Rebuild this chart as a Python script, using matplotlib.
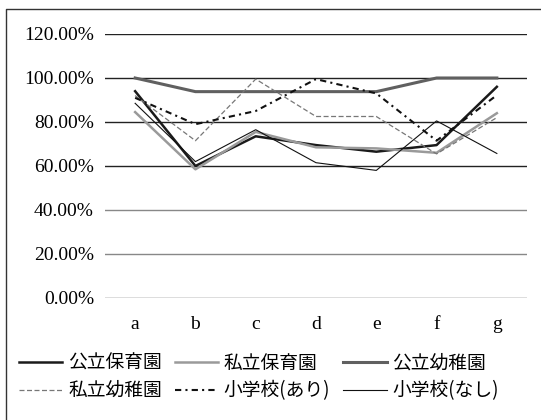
import matplotlib
matplotlib.use("Agg")
import matplotlib.pyplot as plt
from matplotlib.lines import Line2D

plt.rcParams['font.family'] = ['Noto Sans CJK JP', 'DejaVu Sans']

categories = ['a', 'b', 'c', 'd', 'e', 'f', 'g']
yticks = [0, 20, 40, 60, 80, 100, 120]

public_nursery = [94, 60, 73.5, 69.5, 66.5, 69.5, 96]
private_nursery = [84.5, 58.5, 75.5, 68.5, 68, 66, 84]
public_kinder = [100, 93.8, 93.8, 93.8, 93.8, 100, 100]
private_kinder = [92, 71.5, 99.5, 82.5, 82.5, 65.5, 82]
school_yes = [91, 79, 85, 99.5, 93, 71.5, 92.2]
school_no = [88.5, 62, 76.5, 61.5, 58, 80.5, 65.7]

fig = plt.figure(figsize=(5.41, 4.20), dpi=100)
ax = fig.add_axes([105 / 541, 1 - 298 / 420, 422 / 541, 264 / 420])

# frame around the chart (left and top edges)
fx = [6 / 541, 6 / 541, 1.0]
fy = [0, 1 - 9 / 420, 1 - 9 / 420]
fig.add_artist(Line2D(fx, fy, transform=fig.transFigure, color='#333333', linewidth=1.0))

# horizontal gridlines
grid_colors = ['#555555', '#888888', '#888888', '#222222', '#222222', '#222222', '#222222']
for v, c in zip(yticks, grid_colors):
    ax.axhline(v, color=c, linewidth=1.0, zorder=0)

x = range(len(categories))
l1, = ax.plot(x, public_nursery, color='#1a1a1a', linewidth=1.8, label='公立保育園')
l2, = ax.plot(x, private_nursery, color='#9a9a9a', linewidth=1.8, label='私立保育園')
l3, = ax.plot(x, public_kinder, color='#606060', linewidth=2.2, label='公立幼稚園')
l4, = ax.plot(x, private_kinder, color='#777777', linewidth=0.9, linestyle=(0, (4, 2)), label='私立幼稚園')
l5, = ax.plot(x, school_yes, color='#111111', linewidth=1.5, linestyle=(0, (3, 2, 1, 2)), label='小学校(あり)')
l6, = ax.plot(x, school_no, color='#111111', linewidth=0.8, label='小学校(なし)')

ax.set_xlim(-0.5, 6.5)
ax.set_ylim(0, 120)
ax.set_xticks(list(x))
ax.set_xticklabels(categories, family='Liberation Serif', fontsize=14)
ax.set_yticks(yticks)
ax.set_yticklabels(['%.2f%%' % v for v in yticks], family='Liberation Serif', fontsize=14)
ax.tick_params(length=0, pad=8)
ax.tick_params(axis='x', pad=13)
for s in ax.spines.values():
    s.set_visible(False)

handles = [l1, l4, l2, l5, l3, l6]
fig.legend(handles, [h.get_label() for h in handles], ncol=3,
           loc='center', bbox_to_anchor=(259 / 541, 1 - 377 / 420),
           frameon=False, fontsize=13.5, handlelength=2.3,
           handletextpad=0.3, columnspacing=0.7, labelspacing=0.35)

fig.savefig('out.png', dpi=100)
